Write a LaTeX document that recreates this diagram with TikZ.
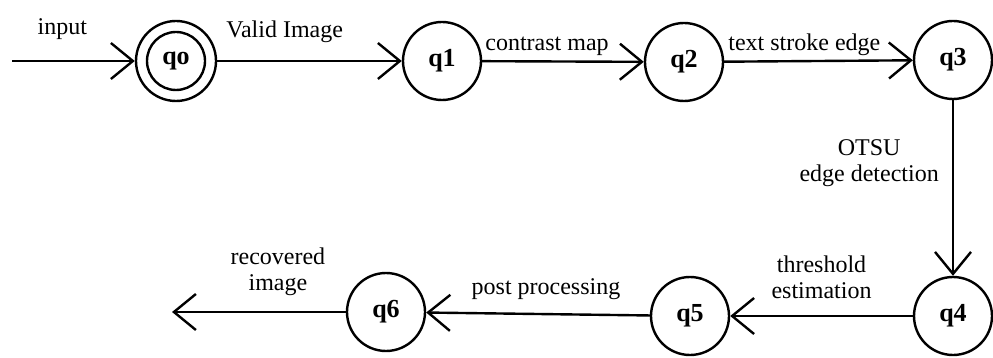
\documentclass[tikz,border=0pt]{standalone}
\usepackage{fontspec}
\setmainfont{Liberation Serif}
\usetikzlibrary{arrows.meta}
\tikzset{
  stnode/.style={circle, draw, line width=2.4pt, minimum size=78pt, inner sep=0pt,
    font=\fontsize{26}{28}\selectfont\bfseries},
  lbl/.style={font=\fontsize{24}{26}\selectfont, inner sep=0pt, align=center},
  arr/.style={line width=2.4pt, -{Straight Barb[length=22pt,width=36pt]}}
}
\begin{document}
\begin{tikzpicture}[x=1pt, y=-1pt]
  \useasboundingbox (0,0) rectangle (993,358);
  % states
  \node[stnode, minimum size=80pt] (q0) at (176,61) {qo};
  \draw[line width=2.4pt] (q0.center) circle (29pt);
  \node[stnode] (q1) at (442,61) {q1};
  \node[stnode] (q2) at (684,62) {q2};
  \node[stnode] (q3) at (953,60) {q3};
  \node[stnode] (q4) at (953,316) {q4};
  \node[stnode] (q5) at (690,316) {q5};
  \node[stnode] (q6) at (386,312) {q6};
  \coordinate (in) at (12,61);
  \coordinate (out) at (172,312);
  % transitions
  \draw[arr] (in) -- node[lbl, above=20pt, xshift=-11pt] {input} (q0);
  \draw[arr] (q0) -- node[lbl, above=17pt, pos=0, anchor=south west, xshift=8pt] {Valid Image} (q1);
  \draw[arr] (q1) -- node[lbl, above=4pt, pos=0, anchor=south west, xshift=2pt] {contrast map} (q2);
  \draw[arr] (q2) -- node[lbl, above=5pt, pos=0, anchor=south west, xshift=3pt] {text stroke edge} (q3);
  \draw[arr] (q3) -- node[lbl, left=13pt, pos=0.36] {OTSU\\edge detection} (q4);
  \draw[arr] (q4) -- node[lbl, above=16pt] {threshold\\estimation} (q5);
  \draw[arr] (q5) -- node[lbl, above=13pt, xshift=8pt] {post processing} (q6);
  \draw[arr] (q6) -- node[lbl, above=15pt, xshift=19pt] {recovered\\image} (out);
\end{tikzpicture}
\end{document}
